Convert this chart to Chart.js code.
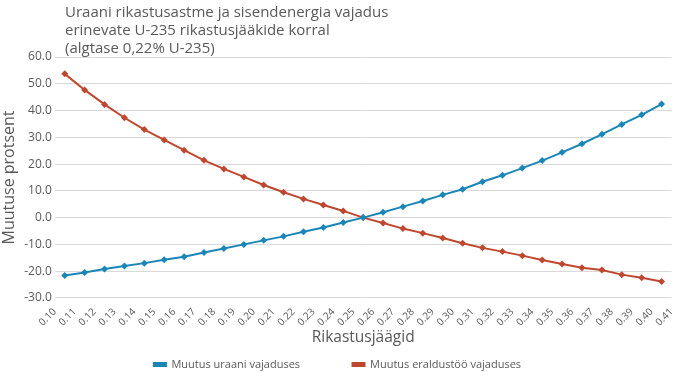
<!DOCTYPE html>
<html>
<head>
<meta charset="utf-8">
<script src="https://cdn.jsdelivr.net/npm/chart.js@4/dist/chart.umd.min.js"></script>
<style>
  html, body { margin: 0; padding: 0; background: #fff; }
  #wrap { position: relative; width: 680px; height: 372px; }
  #pealkiri {
    position: absolute; left: 65px; top: 2px;
    font-family: "Open Sans", sans-serif; font-size: 15px; line-height: 18px;
    color: #595959;
  }
</style>
</head>
<body>
<div id="wrap">
  <canvas id="graafik"></canvas>
  <div id="pealkiri">Uraani rikastusastme ja sisendenergia vajadus<br>erinevate U-235 rikastusjääkide korral<br>(algtase 0,22% U-235)</div>
</div>
<script>
// Rikastusjäägid (% U-235) – andmepunktid
const jaagid = [0.10, 0.11, 0.12, 0.13, 0.14, 0.15, 0.16, 0.17, 0.18, 0.19, 0.20,
  0.21, 0.22, 0.23, 0.24, 0.25, 0.26, 0.27, 0.28, 0.29, 0.30,
  0.31, 0.32, 0.33, 0.34, 0.35, 0.36, 0.37, 0.38, 0.39, 0.40];

// Telje sildid (pildil 32 silti)
const xSildid = ['0.10', '0.11', '0.12', '0.13', '0.14', '0.15', '0.16', '0.17', '0.18', '0.19', '0.20',
  '0.21', '0.22', '0.23', '0.24', '0.25', '0.26', '0.27', '0.28', '0.29', '0.30',
  '0.31', '0.32', '0.33', '0.34', '0.35', '0.36', '0.37', '0.38', '0.39', '0.40', '0.41'];

// Muutus uraani vajaduses (%)
const uraan = [-21.6, -20.5, -19.2, -18.1, -17.0, -15.7, -14.6, -13.0, -11.5, -10.0, -8.5,
  -7.0, -5.3, -3.7, -1.8, 0.0, 2.0, 4.1, 6.2, 8.5, 10.6,
  13.4, 15.8, 18.5, 21.3, 24.4, 27.6, 31.1, 34.8, 38.4, 42.4];

// Muutus eraldustöö vajaduses (%)
const eraldus = [53.7, 47.7, 42.3, 37.3, 32.9, 29.0, 25.2, 21.4, 18.2, 15.2, 12.2,
  9.5, 7.0, 4.7, 2.5, 0.0, -2.0, -4.1, -5.8, -7.6, -9.6,
  -11.3, -12.7, -14.2, -15.8, -17.3, -18.7, -19.6, -21.3, -22.5, -23.9];

const SININE = '#1a86b8';
const PUNANE = '#c0472f';
const HALL = '#595959';
const FONT = '"Open Sans", sans-serif';

function punktid(vaartused) {
  return jaagid.map((x, i) => ({ x: x, y: vaartused[i] }));
}

const ctx = document.getElementById('graafik').getContext('2d');

new Chart(ctx, {
  type: 'line',
  data: {
    datasets: [
      {
        label: 'Muutus uraani vajaduses',
        data: punktid(uraan),
        borderColor: SININE,
        backgroundColor: SININE,
        borderWidth: 2,
        pointStyle: 'rectRot',
        pointRadius: 3.5,
        pointBorderWidth: 0,
        tension: 0
      },
      {
        label: 'Muutus eraldustöö vajaduses',
        data: punktid(eraldus),
        borderColor: PUNANE,
        backgroundColor: PUNANE,
        borderWidth: 2,
        pointStyle: 'rectRot',
        pointRadius: 3.5,
        pointBorderWidth: 0,
        tension: 0
      }
    ]
  },
  options: {
    responsive: true,
    maintainAspectRatio: false,
    animation: false,
    layout: { padding: { top: 57, right: 5, left: 0, bottom: -8 } },
    scales: {
      x: {
        type: 'linear',
        min: 0.095,
        max: 0.405,
        // sildid asuvad kategooriate piiridel nagu originaalis
        afterBuildTicks: (skaala) => {
          skaala.ticks = xSildid.map((s, i) => ({ value: 0.095 + 0.01 * i }));
        },
        ticks: {
          color: HALL,
          font: { family: FONT, size: 10 },
          autoSkip: false,
          minRotation: 45,
          maxRotation: 45,
          padding: 0,
          callback: (v, i) => xSildid[i]
        },
        grid: { display: false },
        border: { display: false },
        title: {
          display: true,
          text: 'Rikastusjäägid',
          color: HALL,
          font: { family: FONT, size: 15.5 },
          padding: { top: 0, bottom: 11 }
        }
      },
      y: {
        min: -30,
        max: 60,
        ticks: {
          stepSize: 10,
          color: HALL,
          font: { family: FONT, size: 12 },
          callback: (v) => v.toFixed(1)
        },
        grid: { color: '#d9d9d9', lineWidth: 1, drawTicks: false },
        border: { display: false },
        title: {
          display: true,
          text: 'Muutuse protsent',
          color: HALL,
          font: { family: FONT, size: 16 },
          padding: { top: 0, bottom: 2 }
        }
      }
    },
    plugins: {
      legend: {
        position: 'bottom',
        labels: {
          color: HALL,
          font: { family: FONT, size: 11 },
          boxWidth: 12,
          boxHeight: 3,
          padding: 1,
          // laiem vahe legendi kirjete vahel
          generateLabels: (chart) => {
            const kirjed = Chart.defaults.plugins.legend.labels.generateLabels(chart);
            kirjed[0].text += '\u00a0'.repeat(18);
            return kirjed;
          }
        }
      },
      tooltip: { enabled: false }
    }
  }
});
</script>
</body>
</html>
